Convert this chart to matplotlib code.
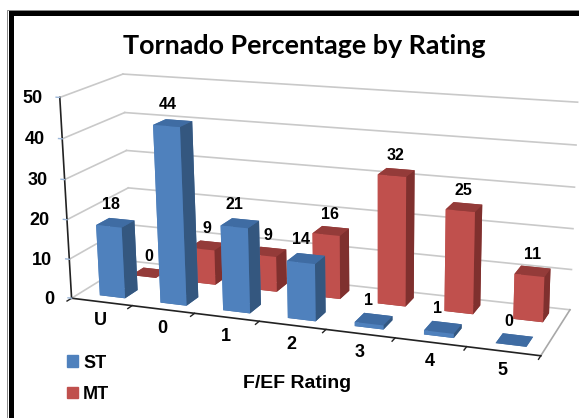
import matplotlib
matplotlib.use('Agg')
import matplotlib.pyplot as plt
from matplotlib.patches import Patch, Rectangle
from mpl_toolkits.mplot3d import proj3d

categories = ['U', '0', '1', '2', '3', '4', '5']
st_values = [18, 44, 21, 14, 1, 1, 0]
mt_values = [0, 9, 9, 16, 32, 25, 11]
z_ticks = [0, 10, 20, 30, 40, 50]

W, H, S = 579, 418, 1000
cx, cy = 301.83, 217.30

BLUE = ['#3f6a9e', '#3f6ca3', '#4f81bd', '#3f6a9e', '#4f81bd', '#34577f']
RED = ['#933c3a', '#943b39', '#c0504d', '#933c3a', '#c0504d', '#7f302e']
GRID = '#c9c9c9'

plt.rcParams['font.family'] = ['Liberation Sans', 'DejaVu Sans']
plt.rcParams['font.weight'] = 'bold'

fig = plt.figure(figsize=(W / 100, H / 100), dpi=100)
ax = fig.add_axes([(cx - S / 2) / W, (H - cy - S / 2) / H, S / W, S / H],
                  projection='3d', computed_zorder=False)
ax.set_xlim(0, 7)
ax.set_ylim(0, 2)
ax.set_zlim(0, 50)
ax.view_init(elev=15.54, azim=-68.89, roll=0.683)
ax.set_proj_type('persp', focal_length=0.2737)
ax.set_box_aspect((1, 0.2698, 0.4298), zoom=0.5365)
ax.set_axis_off()
ax.patch.set_alpha(0)


def label(x, y, z, s, dx=0, dy=0, size=11.5, ha='center'):
    xs, ys, _ = proj3d.proj_transform(x, y, z, ax.get_proj())
    ax.annotate(s, (xs, ys), xytext=(dx, dy), textcoords='offset pixels',
                ha=ha, va='center', fontsize=size, zorder=20)


# walls and floor edges
for z in z_ticks:
    ax.plot([0, 0], [0, 2], [z, z], color=GRID, lw=1.2, zorder=1)
    ax.plot([0, 7], [2, 2], [z, z], color=GRID, lw=1.2, zorder=1)
ax.plot([7, 7], [0, 2], [0, 0], color='#a8a8a8', lw=1.2, zorder=1)

# axes with ticks
ax.plot([0, 7], [0, 0], [0, 0], color='#222222', lw=1.2, zorder=2)
ax.plot([0, 0], [0, 0], [0, 50], color='#222222', lw=1.2, zorder=2)
for i in range(len(categories) + 1):
    ax.plot([i, i], [0, -0.14], [0, 0], color='#222222', lw=1.0, zorder=2)
for z in z_ticks:
    ax.plot([0, -0.06], [0, 0], [z, z], color='#9db7d8', lw=1.0, zorder=2)

# back row first, then the front row
for row, values, colors, base in ((1, mt_values, RED, 3), (0, st_values, BLUE, 10)):
    for i, v in enumerate(values):
        ax.bar3d(i + 0.33, row + 0.27 + 0.06 * row, 0, 0.42, 0.42, v, color=colors,
                 shade=False, zorder=base + i * 0.1, edgecolor='none')

for i, v in enumerate(st_values):
    label(i + 0.5, 0.5, v, str(v), dx=-3, dy=18)
for i, v in enumerate(mt_values):
    label(i + 0.5, 1.5, v, str(v), dx=3, dy=17)

for i, c in enumerate(categories):
    label(i + 0.5, 0, 0, c, dx=-1, dy=-19, size=13)
for z in z_ticks:
    label(0, 0, z, str(z), dx=-17, dy=-1, size=13, ha='right')

fig.text(297.5 / W, 1 - 384 / H, 'F/EF Rating', ha='center', va='center', fontsize=14)
fig.text(304 / W, 1 - 45.5 / H, 'Tornado Percentage by Rating', ha='center', va='center',
         fontsize=19.4, family='Lato')

fig.legend(handles=[Patch(color='#4f81bd'), Patch(color='#c0504d')], labels=['ST', 'MT'],
           frameon=False, loc='lower left', bbox_to_anchor=(67 / W, 1 - 403 / H),
           bbox_transform=fig.transFigure, fontsize=13, handlelength=0.6, handleheight=0.6,
           handletextpad=0.3, labelspacing=0.8, borderpad=0, borderaxespad=0)

# black frame round the picture, cut off by the right and bottom edge
fig.add_artist(Rectangle((10.5 / W, -0.2), 1.2, 1.2 - 13 / H, fill=False, ec='black',
                         lw=3.6, transform=fig.transFigure))
fig.add_artist(Rectangle((7.5 / W, -0.2), 1.2, 1.2 - 9.5 / H, fill=False, ec='#888888',
                         lw=0.7, transform=fig.transFigure))
fig.savefig('out.png', dpi=100)
